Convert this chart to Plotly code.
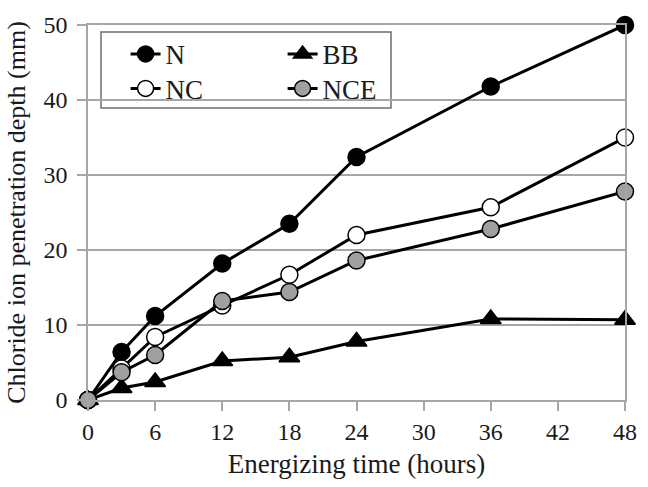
import plotly.graph_objects as go

hours = [0, 3, 6, 12, 18, 24, 36, 48]
n_vals = [0, 6.4, 11.2, 18.2, 23.5, 32.4, 41.8, 50.0]
bb_vals = [0, 1.6, 2.4, 5.2, 5.7, 7.8, 10.8, 10.7]
nc_vals = [0, 4.2, 8.4, 12.6, 16.7, 22.0, 25.7, 35.0]
nce_vals = [0, 3.7, 6.0, 13.2, 14.4, 18.6, 22.8, 27.8]
x_ticks = [0, 6, 12, 18, 24, 30, 36, 42, 48]
y_ticks = [0, 10, 20, 30, 40, 50]

FONT = "Liberation Serif"
TXT = "#1a1a1a"
GRID = "#a6a6a6"

fig = go.Figure()

def add(name, y, symbol, fill, size, legend):
    fig.add_trace(go.Scatter(
        x=hours, y=y, name=name, mode="lines+markers",
        line=dict(color="black", width=3),
        marker=dict(symbol=symbol, size=size, color=fill,
                    line=dict(color="black", width=1.5)),
        cliponaxis=False, legend=legend,
    ))

add("N", n_vals, "circle", "black", 17, "legend")
add("BB", bb_vals, "triangle-up", "black", 18, "legend")
add("NC", nc_vals, "circle", "white", 17, "legend2")
add("NCE", nce_vals, "circle", "#a0a0a0", 17, "legend2")

leg_common = dict(orientation="h", bgcolor="rgba(0,0,0,0)", borderwidth=0,
                  font=dict(family=FONT, size=27, color=TXT),
                  entrywidth=112, xanchor="left", yanchor="top",
                  itemwidth=30, tracegroupgap=0)

fig.update_layout(
    width=648, height=487,
    margin=dict(l=88, r=23, t=25, b=87),
    paper_bgcolor="white", plot_bgcolor="white",
    font=dict(family=FONT, color=TXT),
    legend=dict(x=0.07, y=0.987, **leg_common),
    legend2=dict(x=0.07, y=0.895, **leg_common),
    shapes=[dict(type="rect", xref="paper", yref="paper",
                 x0=(101 - 88) / 537, x1=(391 - 88) / 537,
                 y0=(400 - 108) / 375, y1=(400 - 32) / 375,
                 line=dict(color="#6e6e6e", width=1.5),
                 fillcolor="white", layer="below")],
)

fig.update_xaxes(
    range=[0, 48], tickvals=x_ticks, ticktext=[str(v) for v in x_ticks],
    showgrid=False, zeroline=False,
    showline=True, linecolor=GRID, linewidth=1.5, mirror=True,
    ticks="outside", ticklen=9, tickcolor=GRID, tickwidth=1.5,
    tickfont=dict(family=FONT, size=24, color=TXT),
    title=dict(text="Energizing time (hours)",
               font=dict(family=FONT, size=27, color=TXT), standoff=11),
)
fig.update_yaxes(
    range=[0, 50], tickvals=y_ticks, ticktext=[str(v) for v in y_ticks],
    showgrid=True, gridcolor=GRID, gridwidth=1.5, zeroline=False,
    showline=True, linecolor=GRID, linewidth=1.5, mirror=True,
    ticks="outside", ticklen=9, tickcolor=GRID, tickwidth=1.5,
    ticklabelstandoff=5,
    tickfont=dict(family=FONT, size=24, color=TXT),
    title=dict(text="Chloride ion penetration depth (mm)",
               font=dict(family=FONT, size=26, color=TXT), standoff=10),
)

fig.write_html("out.html")
